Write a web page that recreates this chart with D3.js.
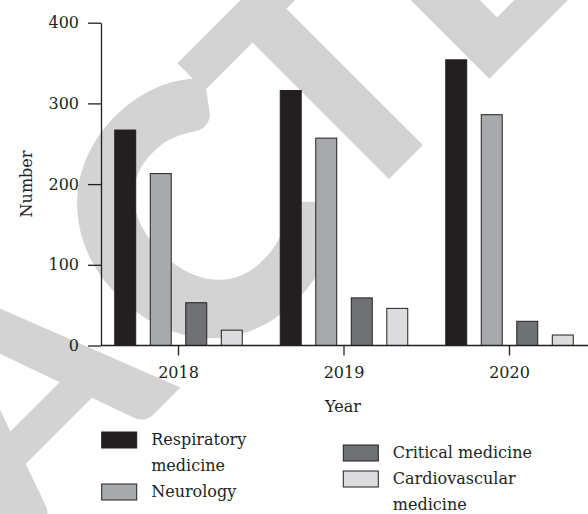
<!DOCTYPE html>
<html>
<head>
	<meta charset="utf-8">
	<title>Number by year</title>
	<script src="https://cdn.jsdelivr.net/npm/d3@7"></script>
	<style>
		html, body { margin: 0; padding: 0; background: #fff; }
		svg text { font-family: "DejaVu Serif", serif; font-size: 16px; fill: #231f20; }
		.axis path, .axis line { stroke: #231f20; stroke-width: 1.3px; }
		svg text.wm { font-family: Lato, sans-serif; font-weight: 900; fill: #d3d3d3; stroke: #d3d3d3; stroke-linejoin: round; }
	</style>
</head>
<body>
	<div id="graph"></div>
	<script>
		var years = ["2018", "2019", "2020"];
		var series = ["Respiratory medicine", "Neurology", "Critical medicine", "Cardiovascular medicine"];
		var respiratory = [267, 316, 354];
		var neurology = [213, 257, 286];
		var critical = [53, 59, 30];
		var cardio = [19, 46, 13];
		var yTicks = [0, 100, 200, 300, 400];
		var legendLines = [["Respiratory", "medicine"], ["Neurology"], ["Critical medicine"], ["Cardiovascular", "medicine"]];

		var colors = ["#231f20", "#a7a9ac", "#707174", "#dcdcde"];
		var values = [respiratory, neurology, critical, cardio];

		var W = 588, H = 514;
		var svg = d3.select("#graph").append("svg").attr("width", W).attr("height", H);

		// watermark: the part of "RETRACTED" that shows, laid along a -45deg baseline
		var ctx = document.createElement("canvas").getContext("2d");
		function ink(ch, size) {
			ctx.font = "900 " + size + "px Lato";
			return ctx.measureText(ch);
		}
		var wm = svg.append("g").attr("transform", "translate(284,284) rotate(-45)");
		// [letter, ink position along baseline, which edge, ink height, ink bottom below baseline, extra stroke]
		[["A", -144, "right", 233, 0, 0], ["C", -122, "left", 248, 18, 10], ["T", 76, "left", 233, 0, 0], ["E", 286, "left", 233, 0, 0]].forEach(function(l) {
			var m = ink(l[0], 100);
			var size = 100 * l[3] / (m.actualBoundingBoxAscent + m.actualBoundingBoxDescent);
			m = ink(l[0], size);
			var x = l[2] == "left" ? l[1] + m.actualBoundingBoxLeft : l[1] - m.actualBoundingBoxRight;
			wm.append("text").attr("class", "wm")
				.style("font-size", size + "px")
				.style("stroke-width", l[5])
				.attr("x", x).attr("y", l[4] - m.actualBoundingBoxDescent)
				.text(l[0]);
		});

		var axX = 101, axY0 = 345.5, axY1 = 22.7;

		var y = d3.scaleLinear().domain([0, 400]).range([axY0, axY1]);
		var x0 = d3.scaleBand().domain(years).range([95.75, 592.25]).padding(0);
		var x1 = d3.scaleBand().domain(series).range([0, 127.5]).paddingInner(0.41).paddingOuter(0);

		var groups = svg.selectAll("g.year")
			.data(years)
			.enter().append("g")
			.attr("class", "year")
			.attr("transform", function(d) { return "translate(" + (x0(d) + x0.bandwidth() / 2 - 63.75) + ",0)"; });

		groups.selectAll("rect")
			.data(function(d, i) { return series.map(function(s, j) { return { s: s, v: values[j][i], j: j }; }); })
			.enter().append("rect")
			.attr("x", function(d) { return x1(d.s); })
			.attr("y", function(d) { return y(d.v); })
			.attr("width", x1.bandwidth())
			.attr("height", function(d) { return y(0) - y(d.v); })
			.attr("fill", function(d) { return colors[d.j]; })
			.attr("stroke", "#231f20")
			.attr("stroke-width", 1);

		// y axis
		var yAxis = svg.append("g")
			.attr("class", "axis")
			.attr("transform", "translate(" + axX + ",0)")
			.call(d3.axisLeft(y).tickValues(yTicks).tickSize(13).tickSizeOuter(0).tickPadding(9));
		yAxis.selectAll("text").style("font-size", "16px").style("font-family", "DejaVu Serif");

		// x axis
		var xAxis = svg.append("g")
			.attr("class", "axis")
			.attr("transform", "translate(0," + axY0 + ")")
			.call(d3.axisBottom(x0).tickSize(10).tickSizeOuter(0).tickPadding(11));
		xAxis.select(".domain").remove();
		xAxis.append("line").attr("x1", axX).attr("x2", W).attr("y1", 0).attr("y2", 0);
		xAxis.selectAll("text").style("font-size", "16px").style("font-family", "DejaVu Serif");

		svg.append("text")
			.attr("x", 343).attr("y", 411.5)
			.attr("text-anchor", "middle")
			.text("Year");

		svg.append("text")
			.attr("transform", "translate(32,184) rotate(-90)")
			.attr("text-anchor", "middle")
			.text("Number");

		// legend: two columns
		var cols = [{ x: 101.7, y: 445, items: [0, 1] }, { x: 343.3, y: 458, items: [2, 3] }];
		cols.forEach(function(c) {
			var yy = c.y;
			c.items.forEach(function(k) {
				svg.append("rect")
					.attr("x", c.x).attr("y", yy - 13)
					.attr("width", 35).attr("height", 16)
					.attr("fill", colors[k])
					.attr("stroke", "#231f20").attr("stroke-width", 1);
				var t = svg.append("text").attr("x", c.x + 49.5).attr("y", yy);
				legendLines[k].forEach(function(line, li) {
					t.append("tspan").attr("x", c.x + 49.5).attr("dy", li ? 26 : 0).text(line);
				});
				yy += legendLines[k].length * 26;
			});
		});
	</script>
</body>
</html>
